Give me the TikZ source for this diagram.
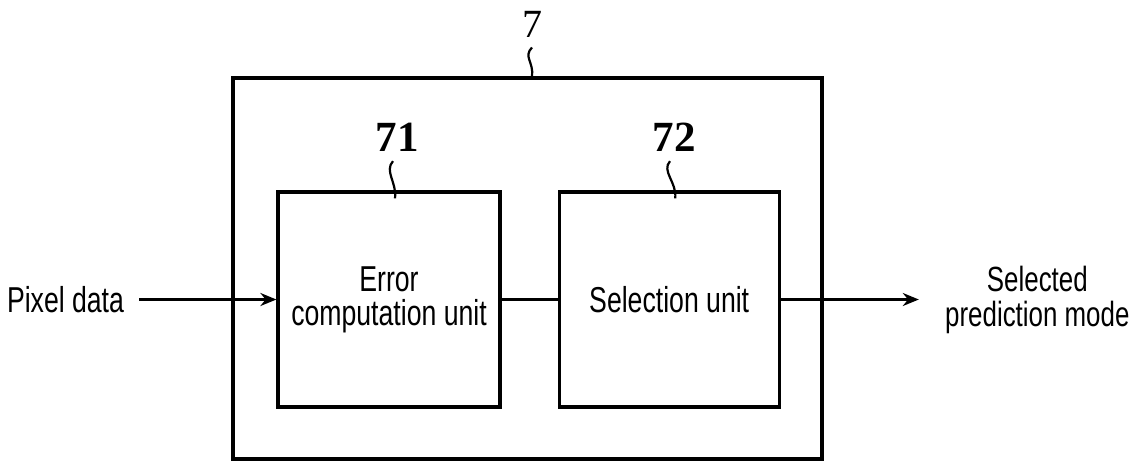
\documentclass[tikz,border=0pt]{standalone}
\usepackage{fontspec}
\setmainfont{Liberation Sans}[FakeStretch=0.74]
\newfontfamily\numfont{Liberation Serif}
\usetikzlibrary{arrows.meta,positioning,calc}

\begin{document}
\begin{tikzpicture}[
        x=0.5pt, y=-0.5pt,
        font=\fontsize{18}{17}\selectfont,
        >={Stealth[length=8pt,width=6.5pt]},
        block/.style={draw, line width=1.6pt, minimum width=111pt, minimum height=107.5pt, align=center, inner sep=0pt},
        sysbox/.style={draw, line width=1.6pt, minimum width=294.5pt, minimum height=190.5pt},
        refnum/.style={font=\numfont\bfseries\fontsize{21.5}{21.5}\selectfont, inner sep=2pt},
        sysnum/.style={font=\numfont\fontsize{20}{20}\selectfont, inner sep=2pt},
        line/.style={->, line width=1.3pt},
        lead/.style={line width=1.1pt},
    ]
        \useasboundingbox (0,0) rectangle (1138,461);

        % --- outer unit 7 ---
        \node[sysbox] (sys) at (527.5,268.5) {};
        \node[sysnum] (l7) at (532,24) {7};

        % --- inner blocks ---
        \node[block] (err) at (389,299.5) {Error\\computation unit};
        \node[block, right=28pt of err, minimum width=110pt] (sel) {Selection unit};

        \node[refnum] (l71) at (397,137.5) {71};
        \node[refnum] (l72) at (674,137.5) {72};

        % leaders
        \draw[lead] ($(l7.south)+(0,6)$) .. controls +(-9,9) and +(2,-14) .. (l7.south |- sys.north);
        \draw[lead] ($(l71.south)+(-4,5)$) .. controls +(-9,10) and +(2,-16) .. ($(err.north)+(6,8)$);
        \draw[lead] ($(l72.south)+(-4,5)$) .. controls +(-9,10) and +(2,-16) .. ($(sel.north)+(6,8)$);

        % --- input / output ---
        \node[left=75pt of err, inner sep=1pt] (pix) {Pixel data};
        \node[right=81pt of sel, inner sep=1pt, align=center, font=\fontsize{17.5}{17.5}\selectfont] (out) {Selected\\prediction mode};

        \draw[line, shorten <=6.5pt] (pix.east) -- (err.west);
        \draw[line width=1.3pt] (err.east) -- (sel.west);
        \draw[line, shorten >=12pt] (sel.east) -- (out.west);

        \end{tikzpicture}
\end{document}
